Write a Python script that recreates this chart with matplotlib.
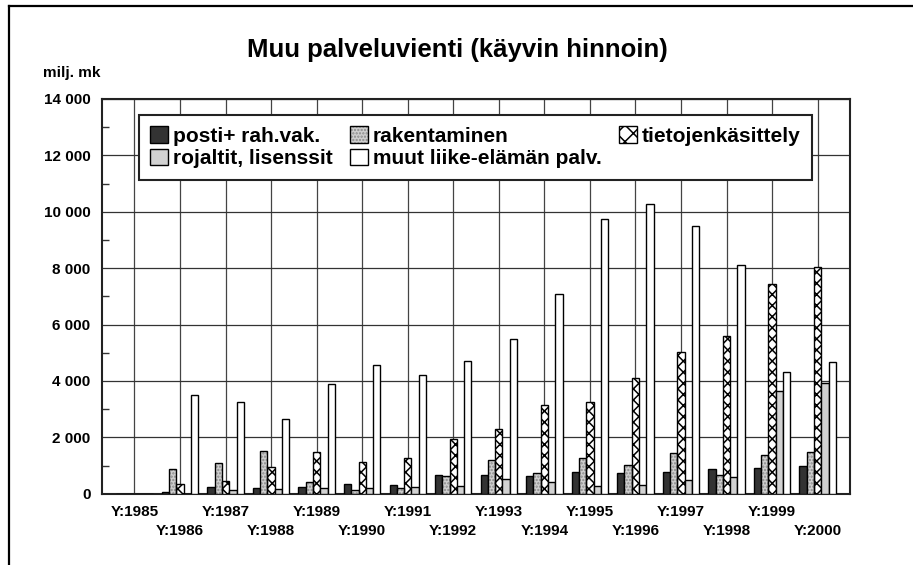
import numpy as np
import matplotlib
matplotlib.use("Agg")
import matplotlib.pyplot as plt
from matplotlib.patches import Patch
from matplotlib.lines import Line2D
from matplotlib.legend_handler import HandlerTuple
from matplotlib.ticker import FuncFormatter, MultipleLocator

plt.rcParams['font.family'] = ['Liberation Sans', 'DejaVu Sans']
plt.rcParams['font.weight'] = 'bold'
plt.rcParams['hatch.linewidth'] = 1.1

# Data (milj. mk)
years = [str(y) for y in range(1985, 2001)]
posti = [0, 70, 238, 213, 250, 355, 320, 665, 665, 640, 771, 725, 771, 878, 913, 984]
rakentaminen = [0, 867, 1080, 1507, 405, 120, 190, 617, 1187, 746, 1258, 1031, 1436, 665, 1365, 1471]
tieto = [0, 355, 440, 948, 1493, 1137, 1257, 1929, 2288, 3152, 3248, 4087, 5036, 5604, 7441, 8056]
rojaltit = [0, 0, 120, 178, 190, 190, 225, 275, 512, 405, 263, 298, 487, 583, 3639, 3934]
muut = [0, 3483, 3258, 2665, 3898, 4549, 4220, 4716, 5473, 7072, 9737, 10260, 9502, 8127, 4300, 4670]
tick_labels = ["Y:" + y for y in years]

fig = plt.figure(figsize=(9.13, 5.65), dpi=100)
ax = fig.add_axes([0.1114, 0.1262, 0.8200, 0.6986])

x = np.arange(len(years))
w = 0.16

# Bars
ax.bar(x - 2 * w, posti, w, color='#333333', edgecolor='black', linewidth=1.0, zorder=3)
ax.bar(x - w, rakentaminen, w, color='#cfcfcf', edgecolor='#8a8a8a', hatch='.....',
       linewidth=0, zorder=3)
ax.bar(x - w, rakentaminen, w, fill=False, edgecolor='black', linewidth=1.0, zorder=4)
ax.bar(x, tieto, w, color='white', edgecolor='black', hatch='xxx', linewidth=1.0, zorder=3)
ax.bar(x + w, rojaltit, w, color='#d2d2d2', edgecolor='black', linewidth=1.0, zorder=3)
ax.bar(x + 2 * w, muut, w, color='white', edgecolor='black', linewidth=1.0, zorder=3)

# Axes, grid
ax.set_xlim(-0.72, 15.72)
ax.set_ylim(0, 14000)
ax.yaxis.set_major_locator(MultipleLocator(2000))
ax.yaxis.set_minor_locator(MultipleLocator(1000))
ax.yaxis.set_major_formatter(FuncFormatter(lambda v, p: f"{int(v):,}".replace(",", " ")))
ax.tick_params(axis='y', which='major', length=0, pad=8, labelsize=11)
ax.tick_params(axis='y', which='minor', direction='in', length=5, width=1, color='#333333')

ax.set_xticks(x[::2], tick_labels[::2])
ax.set_xticks(x[1::2], tick_labels[1::2], minor=True)
ax.tick_params(axis='x', which='major', length=0, pad=8, labelsize=11)
ax.tick_params(axis='x', which='minor', length=0, pad=22, labelsize=11)

ax.set_axisbelow(True)
ax.grid(axis='y', which='major', color='#333333', linewidth=0.9)
ax.grid(axis='x', which='both', color='#444444', linewidth=0.9)
for s in ax.spines.values():
    s.set_linewidth(1.5)
    s.set_color('#222222')

# Legend (row 1: posti, rakentaminen, tieto; row 2: rojaltit, muut)
h_posti = Patch(facecolor='#333333', edgecolor='black', linewidth=1.0)
h_rak = (Patch(facecolor='#cfcfcf', edgecolor='#8a8a8a', hatch='.....', linewidth=0),
         Patch(fill=False, edgecolor='black', linewidth=1.0))
h_tieto = Patch(facecolor='white', edgecolor='black', hatch='xx', linewidth=1.0)
h_roj = Patch(facecolor='#d2d2d2', edgecolor='black', linewidth=1.0)
h_muut = Patch(facecolor='white', edgecolor='black', linewidth=1.0)
handles = [h_posti, h_roj, h_rak, h_muut, h_tieto]
labels = ["posti+ rah.vak.", "rojaltit, lisenssit", "rakentaminen",
          "muut liike-elämän palv.", "tietojenkäsittely"]
leg = fig.legend(handles, labels, ncol=3, loc='upper left', mode='expand',
                 bbox_to_anchor=(0.1522, 0.6713, 0.7371, 0.1257),
                 bbox_transform=fig.transFigure,
                 handler_map={tuple: HandlerTuple(ndivide=1)},
                 fontsize=15, frameon=True, fancybox=False, framealpha=1,
                 edgecolor='#222222', handlelength=0.85, handleheight=0.85,
                 handletextpad=0.25, columnspacing=0.4, labelspacing=0.15,
                 borderpad=0.55, borderaxespad=0)
leg.get_frame().set_linewidth(1.5)
leg.set_zorder(10)

# Titles
fig.text(0.501, 0.9115, "Muu palveluvienti (käyvin hinnoin)", ha='center', va='center',
         fontsize=18.5, fontweight='bold')
fig.text(0.047, 0.871, "milj. mk", ha='left', va='center', fontsize=11, fontweight='bold')

# Outer frame (left and top only)
fig.add_artist(Line2D([0.0104, 0.0104], [0, 0.9885], transform=fig.transFigure,
                      color='black', linewidth=1.6))
fig.add_artist(Line2D([0.0104, 1], [0.9885, 0.9885], transform=fig.transFigure,
                      color='black', linewidth=1.6))

fig.savefig("out.png", dpi=100)
